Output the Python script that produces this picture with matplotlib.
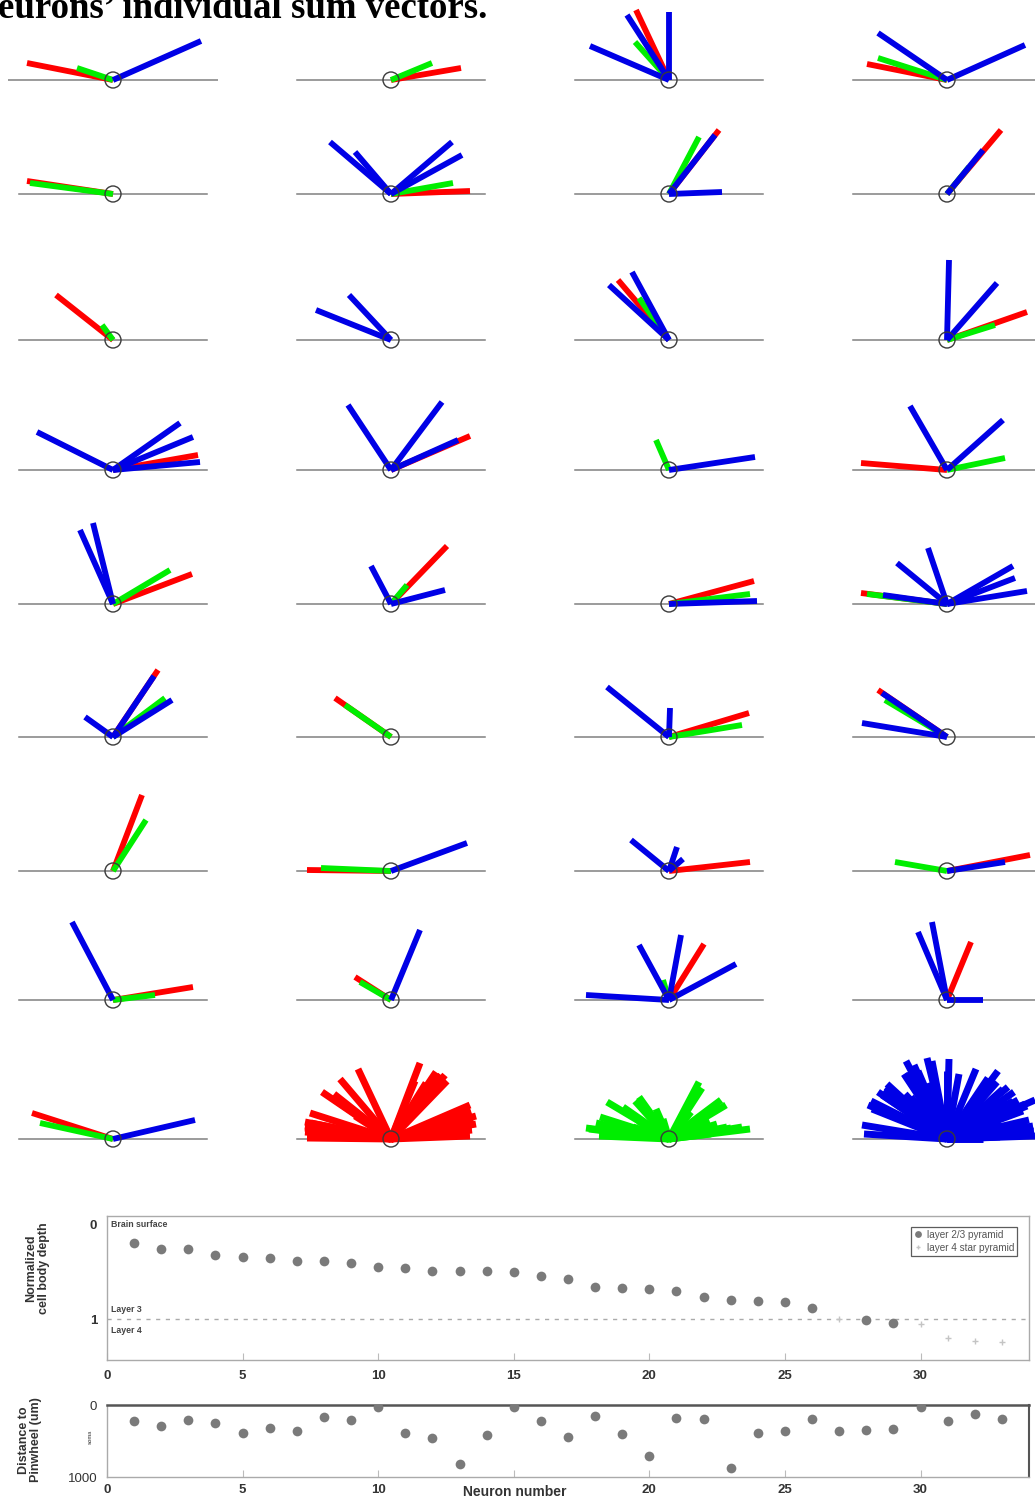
import numpy as np
import matplotlib
matplotlib.use("Agg")
import matplotlib.pyplot as plt
from matplotlib.patches import Circle

W, H = 1035, 1501

# sum vector components (x, y) per neuron (y = up)
red_vecs = [
    [(-86, 17)], [(70, 12)], [(-33, 70)], [(-80, 16)],
    [(-86, 13)], [(79, 3)], [(50, 64)], [(54, 64)],
    [(-57, 45)], [], [(-51, 60)], [(80, 28)],
    [(85, 15)], [(79, 34)], [], [(-86, 7)],
    [(79, 30)], [(56, 58)], [(85, 23)], [(-86, 11)],
    [(45, 67)], [(-56, 39)], [(80, 24)], [(-69, 47)],
    [(29, 76)], [(-84, 1)], [(81, 9)], [(83, 16)],
    [(80, 13)], [(-36, 23)], [(35, 56)], [(24, 58)],
    [(-81, 26)],
]
green_vecs = [
    [(-36, 12)], [(41, 17)], [(-34, 38)], [(-69, 22)],
    [(-83, 11)], [(62, 11)], [(30, 57)], [(22, 27)],
    [(-11, 15)], [], [(-30, 42)], [(48, 15)],
    [], [], [(-13, 30)], [(58, 12)],
    [(57, 34)], [(16, 19)], [(81, 10)], [(-80, 10)],
    [(52, 39)], [(-46, 32)], [(73, 12)], [(-62, 37)],
    [(33, 51)], [(-70, 3)], [], [(-52, 9)],
    [(42, 5)], [(-31, 18)], [(-6, 20)], [],
    [(-73, 16)],
]
blue_vecs = [
    [(88, 39)], [], [(-42, 65), (0, 68), (-79, 34)], [(-69, 47), (78, 35)],
    [], [(-61, 52), (-36, 42), (61, 52), (71, 39)], [(46, 59), (53, 2)], [(36, 44)],
    [], [(-75, 30), (-42, 45)], [(-60, 55), (-37, 68)], [(2, 80), (50, 57)],
    [(-76, 38), (67, 47), (80, 33), (87, 8)], [(-43, 65), (51, 68), (67, 30)], [(86, 13)], [(-37, 64), (56, 50)],
    [(-33, 74), (-20, 81)], [(-20, 38), (54, 14)], [(88, 3)],
    [(-64, 9), (-50, 41), (-19, 56), (66, 38), (68, 26), (80, 13)],
    [(-28, 20), (41, 61), (59, 37)], [], [(-62, 50), (1, 29)], [(-65, 44), (-85, 14)],
    [], [(76, 28)], [(-38, 31), (8, 24), (14, 12)], [(58, 9)],
    [(-41, 78)], [(29, 70)], [(-83, 5), (-30, 55), (12, 65), (67, 36)], [(-29, 68), (-15, 78), (36, 0)],
    [(82, 19)],
]

neurons = np.arange(1, 34)
# 'p' = layer 2/3 pyramid, 's' = layer 4 star pyramid
cell_type = ['p'] * 26 + ['s', 'p', 'p', 's', 's', 's', 's']
depth = [0.20, 0.26, 0.26, 0.32, 0.34, 0.35, 0.38, 0.39, 0.41, 0.45,
         0.46, 0.49, 0.49, 0.49, 0.50, 0.54, 0.58, 0.66, 0.67, 0.68,
         0.70, 0.76, 0.80, 0.81, 0.82, 0.88, 1.00, 1.01, 1.04, 1.05,
         1.20, 1.23, 1.24]
pinwheel_dist = [223, 293, 214, 256, 386, 316, 363, 163, 214, 30,
                 386, 465, 814, 419, 25, 219, 442, 149, 409, 712,
                 181, 195, 874, 395, 358, 200, 367, 349, 340, 30,
                 219, 126, 190]

# panel layout (pixel centres of the soma circles)
col_x = [113, 391, 669, 947]
row_y = [80, 194, 340, 470, 604, 737, 871, 1000, 1139]

plt.rcParams['font.family'] = ['Liberation Sans', 'DejaVu Sans']
fig = plt.figure(figsize=(W / 100, H / 100), dpi=100)

RED, GREEN, BLUE = '#ff0000', '#00ee00', '#0000e6'


def panel(cx, cy, half=94):
    ax = fig.add_axes([(cx - 105) / W, 1 - (cy + 30) / H, 210 / W, 135 / H])
    ax.set_xlim(-105, 105)
    ax.set_ylim(-30, 105)
    ax.axis('off')
    ax.plot([-half, half], [0, 0], color='#808080', lw=1.1, zorder=1)
    ax.add_patch(Circle((0, 0), 8, fill=False, ec='#3a3a3a', lw=1.0, zorder=10))
    return ax


def draw_vecs(ax, vecs, color, lw):
    for x, y in vecs:
        ax.plot([0, x], [0, y], color=color, lw=lw, solid_capstyle='butt', zorder=3)


positions = [(cx, cy) for cy in row_y for cx in col_x]
for i in range(33):
    cx, cy = positions[i]
    ax = panel(cx, cy, 105 if i == 0 else 94)
    draw_vecs(ax, red_vecs[i], RED, 4.2)
    draw_vecs(ax, green_vecs[i], GREEN, 4.2)
    draw_vecs(ax, blue_vecs[i], BLUE, 4.2)

# pooled panels
for k, (vecs, color) in enumerate([(red_vecs, RED), (green_vecs, GREEN), (blue_vecs, BLUE)]):
    cx, cy = positions[33 + k]
    ax = panel(cx, cy)
    for v in vecs:
        draw_vecs(ax, v, color, 5.0)

fig.text(-0.002, 1 - 18 / H, "eurons\u2019 individual sum vectors.", family='Liberation Serif',
         fontweight='bold', fontsize=26.5, va='baseline', ha='left')

# depth plot
L, R = 107, 1029
ax1 = fig.add_axes([L / W, 1 - 1360 / H, (R - L) / W, 144 / H])
ax1.set_xlim(0, 34)
ax1.set_ylim(1.43, -0.09)
ax1.axhline(1, color='#aaaaaa', lw=1, ls=(0, (3, 4)), zorder=1)
pyr = [i for i in range(33) if cell_type[i] == 'p']
star = [i for i in range(33) if cell_type[i] == 's']
ax1.plot(neurons[pyr], np.array(depth)[pyr], 'o', color='#7a7a7a', ms=7, mec='none',
         label='layer 2/3 pyramid', zorder=3)
ax1.plot(neurons[star], np.array(depth)[star], '+', color='#c4c4c4', ms=5, mew=1,
         label='layer 4 star pyramid', zorder=3)
ax1.set_xticks(range(0, 31, 5))
ax1.set_yticks([0, 1])
ax1.text(0.15, -0.005, 'Brain surface', fontsize=6.3, fontweight='bold', color='#444', va='center')
ax1.text(0.15, 0.90, 'Layer 3', fontsize=6.3, fontweight='bold', color='#444', va='center')
ax1.text(0.15, 1.12, 'Layer 4', fontsize=6.3, fontweight='bold', color='#444', va='center')
leg = ax1.legend(loc='upper right', bbox_to_anchor=(0.987, 0.924), borderaxespad=0,
                 fontsize=7.2, frameon=True, fancybox=False, edgecolor='#333333',
                 borderpad=0.3, handlelength=0.8, handletextpad=0.5, labelspacing=0.3,
                 markerscale=0.7)
leg.get_frame().set_linewidth(0.9)
for t in leg.get_texts():
    t.set_color('#555555')

# distance to pinwheel plot
ax2 = fig.add_axes([L / W, 1 - 1477 / H, (R - L) / W, 72 / H])
ax2.set_xlim(0, 34)
ax2.set_ylim(1000, 0)
ax2.plot(neurons, pinwheel_dist, 'o', color='#7a7a7a', ms=7, mec='none', zorder=3)
ax2.set_xticks(range(0, 31, 5))
ax2.set_xticklabels(['0', '5', '10', '', '20', '25', '30'])
ax2.set_yticks([0, 1000])

for ax in (ax1, ax2):
    for s in ax.spines.values():
        s.set_color('#aaaaaa')
        s.set_linewidth(1)
    ax.tick_params(axis='x', direction='in', length=5, color='#bbbbbb', pad=7,
                   labelsize=9.5, labelcolor='#333333')
    ax.tick_params(axis='y', length=0, pad=7, labelsize=9.5, labelcolor='#333333')
    for lab in ax.get_xticklabels():
        lab.set_fontweight('bold')
for lab in ax1.get_yticklabels():
    lab.set_fontweight('bold')
ax2.tick_params(axis='x', pad=5)
ax2.spines['top'].set_color('#555555')
ax2.spines['top'].set_linewidth(1.8)
ax2.spines['right'].set_color('#555555')
ax2.spines['right'].set_linewidth(1.5)

fig.text(515 / W, 1 - 1492 / H, 'Neuron number', ha='center', va='center',
         fontsize=10, fontweight='bold', color='#333333')
fig.text(38 / W, 1 - 1268 / H, 'Normalized\ncell body depth', rotation=90, ha='center',
         va='center', fontsize=9, fontweight='bold', color='#333333', multialignment='center',
         linespacing=1.1)
fig.text(30 / W, 1 - 1440 / H, 'Distance to\nPinwheel (um)', rotation=90, ha='center',
         va='center', fontsize=9, fontweight='bold', color='#333333', multialignment='center',
         linespacing=1.1)
fig.text(90 / W, 1 - 1437 / H, 'soma', rotation=90, ha='center', va='center',
         fontsize=4, fontweight='bold', color='#666666')

fig.savefig('out.png', dpi=100)
